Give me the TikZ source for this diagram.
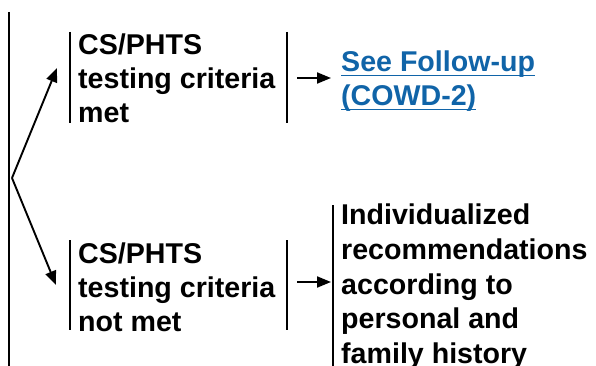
\documentclass[tikz,border=0pt]{standalone}
\usepackage{fontspec}
\setmainfont{Liberation Sans}
\newcommand\linkul[1]{\setbox0\hbox{#1}\rlap{\rule[-4.5pt]{\wd0}{1.1pt}}\box0}
\usetikzlibrary{arrows.meta}
\definecolor{linkblue}{RGB}{16,100,168}
\begin{document}
\begin{tikzpicture}[x=1pt,y=-1pt,
  txt/.style={anchor=north west,inner sep=0pt,align=left,font=\fontsize{28.6}{33.8}\selectfont\bfseries},
  bar/.style={line width=2.5pt},
  arr/.style={line width=1.9pt,-{Triangle[length=14pt,width=11pt]}}]
\useasboundingbox (0,0) rectangle (596,366);
% left vertical line
\coordinate (ltop) at (9,12);
\coordinate (lbot) at (9,366);
\draw[bar] (ltop) -- (lbot);
\coordinate (fork) at (12,178);
% boxes text
\node[txt] (met) at (78,34) {CS/PHTS\\testing criteria\\met};
\node[txt] (notmet) at (78,243) {CS/PHTS\\testing criteria\\not met};
\node[txt,text=linkblue] (follow) at (341,51) {\linkul{See Follow-up}\\\linkul{(COWD-2)}};
\node[txt,font=\fontsize{28.6}{34.6}\selectfont\bfseries] (indiv) at (341,204) {Individualized\\recommendations\\according to\\personal and\\family history};
% bars
\coordinate (m1a) at (70,32); \coordinate (m1b) at (70,123);
\coordinate (m2a) at (287,32); \coordinate (m2b) at (287,123);
\draw[bar] (m1a) -- (m1b); \draw[bar] (m2a) -- (m2b);
\coordinate (n1a) at (70,240); \coordinate (n1b) at (70,330);
\coordinate (n2a) at (287,240); \coordinate (n2b) at (287,330);
\draw[bar] (n1a) -- (n1b); \draw[bar] (n2a) -- (n2b);
\coordinate (i1a) at (333,205); \coordinate (i1b) at (333,366);
\draw[bar] (i1a) -- (i1b);
% arrows
\coordinate (upTip) at (57,68);
\coordinate (dnTip) at (56,285);
\draw[arr] (fork) -- (upTip);
\draw[arr] (fork) -- (dnTip);
\coordinate (a1s) at (297,78); \coordinate (a1e) at (331,78);
\draw[arr] (a1s) -- (a1e);
\coordinate (a2s) at (297,282); \coordinate (a2e) at (331,282);
\draw[arr] (a2s) -- (a2e);
\end{tikzpicture}
\end{document}
